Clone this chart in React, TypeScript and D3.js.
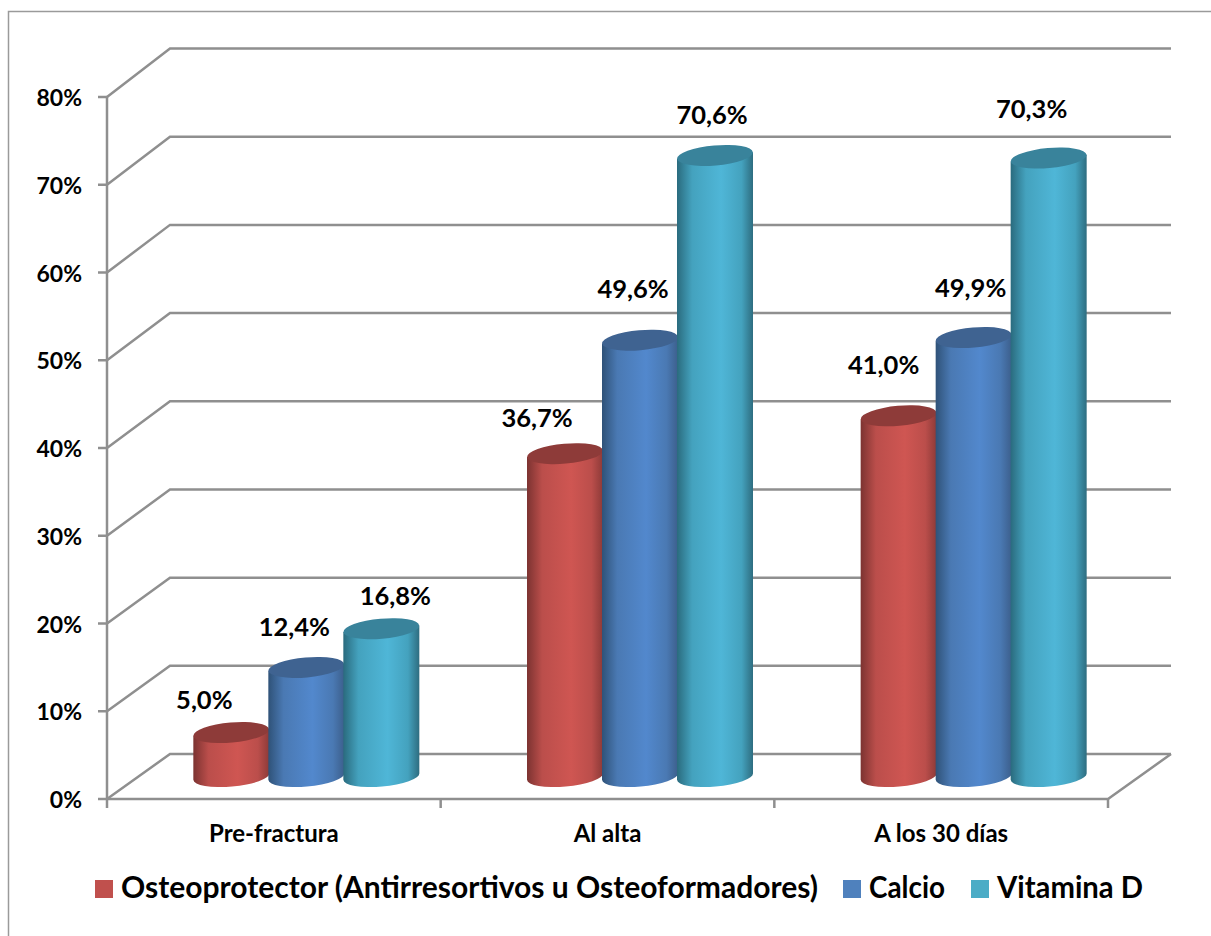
import * as d3 from "d3";

const categories = ["Pre-fractura", "Al alta", "A los 30 días"];
const seriesNames = ["Osteoprotector (Antirresortivos u Osteoformadores)", "Calcio", "Vitamina D"];
const osteoprotector = [5.0, 36.7, 41.0];
const calcio = [12.4, 49.6, 49.9];
const vitaminaD = [16.8, 70.6, 70.3];
const yTicks = [0, 10, 20, 30, 40, 50, 60, 70, 80];

// labels were dragged around by hand in the original, so each has its own nudge
const labelNudge = [
  [[-27, -33], [-12, -40], [14, -33]],
  [[-28, -36], [-7, -51], [-3, -40]],
  [[-15, -51], [-3, -50], [-17, -49]],
];

const colors = [
  { id: "red", dark: "#7c3331", mid: "#bb4e4b", light: "#cf5652", edge: "#8c3a38", top: "#8e3b39", swatch: "#c0504d" },
  { id: "blue", dark: "#2f5278", mid: "#4a79b3", light: "#5288cd", edge: "#3c5f8c", top: "#3f6391", swatch: "#4f81bd" },
  { id: "teal", dark: "#2a6b7e", mid: "#44a2be", light: "#4fb6d7", edge: "#2e6d80", top: "#39839b", swatch: "#4bacc6" },
];

const legendX = [95, 843, 971];
const legendWidth = [697, 76, 146];
const font = "Lato, 'Open Sans', sans-serif";
const gridColor = "#8f8f8f";

const left = 107;
const right = 1108;
const depthX = 63;

const x = d3.scaleBand<string>().domain(categories).range([left, right]);
const yFront = d3.scaleLinear().domain([0, 80]).range([799, 97]);
const yBack = d3.scaleLinear().domain([0, 80]).range([754, 48.5]);
const yMid = (v: number) => (yFront(v) + yBack(v)) / 2;
const inner = d3.scaleBand<number>().domain([0, 1, 2]).range([-112.5, 112.5]);

const rx = 38;
const ry = 10;
const rot = -5;
const tilt = 3.3;

function cylinderBody(cx: number, yTop: number, yBase: number) {
  const p = d3.path();
  p.moveTo(cx - rx, yTop + tilt);
  p.lineTo(cx - rx, yBase + tilt);
  const arc = `A${rx} ${ry} ${rot} 0 0 ${cx + rx} ${yBase - tilt}`;
  return `${p.toString()}${arc}L${cx + rx} ${yTop - tilt}Z`;
}

export default function App() {
  const values = [osteoprotector, calcio, vitaminaD];
  const wall = (v: number) =>
    d3.line()([
      [left, yFront(v)],
      [left + depthX, yBack(v)],
      [right + depthX, yBack(v)],
    ]) as string;
  const xTicks = [...categories.map((c) => x(c) as number), right];
  const barX = (ci: number, si: number) =>
    (x(categories[ci]) as number) + x.bandwidth() / 2 + depthX / 2 + (inner(si) as number) + inner.bandwidth() / 2 + 1;

  return (
    <svg
      width={1211}
      height={936}
      style={{ position: "absolute", left: 0, top: 0, background: "#fff", fontFamily: font, fontWeight: 700 }}
    >
      <defs>
        {colors.map((c) => (
          <linearGradient key={c.id} id={`grad-${c.id}`} x1="0" x2="1" y1="0" y2="0">
            <stop offset="0" stopColor={c.dark} />
            <stop offset="0.2" stopColor={c.mid} />
            <stop offset="0.58" stopColor={c.light} />
            <stop offset="0.85" stopColor={c.mid} />
            <stop offset="1" stopColor={c.edge} />
          </linearGradient>
        ))}
      </defs>

      {/* chart frame, open on the right and bottom */}
      <path d="M8.5 936V11.5H1211" fill="none" stroke="#9a9a9a" strokeWidth={1.5} />

      {/* walls and floor */}
      <g fill="none" stroke={gridColor} strokeWidth={2.5}>
        {yTicks.map((t) => (
          <path key={t} d={wall(t)} />
        ))}
        <path
          d={
            d3.line()([
              [right + depthX, yBack(0)],
              [right, yFront(0)],
              [left, yFront(0)],
            ]) as string
          }
        />
        <line x1={left} x2={left} y1={yFront(80)} y2={yFront(0)} />
        {yTicks.map((t) => (
          <line key={t} x1={left - 9} x2={left} y1={yFront(t)} y2={yFront(t)} />
        ))}
        {xTicks.map((t) => (
          <line key={t} x1={t} x2={t} y1={yFront(0)} y2={yFront(0) + 9} />
        ))}
      </g>

      {/* axis labels */}
      {yTicks.map((t) => (
        <text key={t} x={82} y={yFront(t) + 9} textAnchor="end" fontSize={23} fill="#000">
          {t}%
        </text>
      ))}
      {categories.map((c) => (
        <text key={c} x={(x(c) as number) + x.bandwidth() / 2} y={842} textAnchor="middle" fontSize={24} fill="#000">
          {c}
        </text>
      ))}

      {/* cylinders */}
      {categories.map((c, ci) =>
        seriesNames.map((s, si) => {
          const cx = barX(ci, si);
          const yTop = yMid(values[si][ci]);
          return (
            <g key={c + s}>
              <path d={cylinderBody(cx, yTop, yMid(0))} fill={`url(#grad-${colors[si].id})`} />
              <ellipse
                cx={cx}
                cy={yTop}
                rx={rx}
                ry={ry}
                transform={`rotate(${rot} ${cx} ${yTop})`}
                fill={colors[si].top}
              />
            </g>
          );
        })
      )}

      {/* data labels go on top of everything */}
      {categories.map((c, ci) =>
        seriesNames.map((s, si) => {
          const v = values[si][ci];
          const [dx, dy] = labelNudge[ci][si];
          return (
            <text
              key={c + s}
              x={barX(ci, si) + dx}
              y={yMid(v) + dy + 9}
              textAnchor="middle"
              fontSize={25.5}
              fill="#000"
            >
              {v.toFixed(1).replace(".", ",")}%
            </text>
          );
        })
      )}

      {/* legend */}
      {seriesNames.map((s, i) => (
        <g key={s}>
          <rect x={legendX[i]} y={880} width={18} height={18} fill={colors[i].swatch} />
          <text
            x={legendX[i] + 26}
            y={898}
            fontSize={30}
            fill="#000"
            textLength={legendWidth[i]}
            lengthAdjust="spacingAndGlyphs"
          >
            {s}
          </text>
        </g>
      ))}
    </svg>
  );
}
